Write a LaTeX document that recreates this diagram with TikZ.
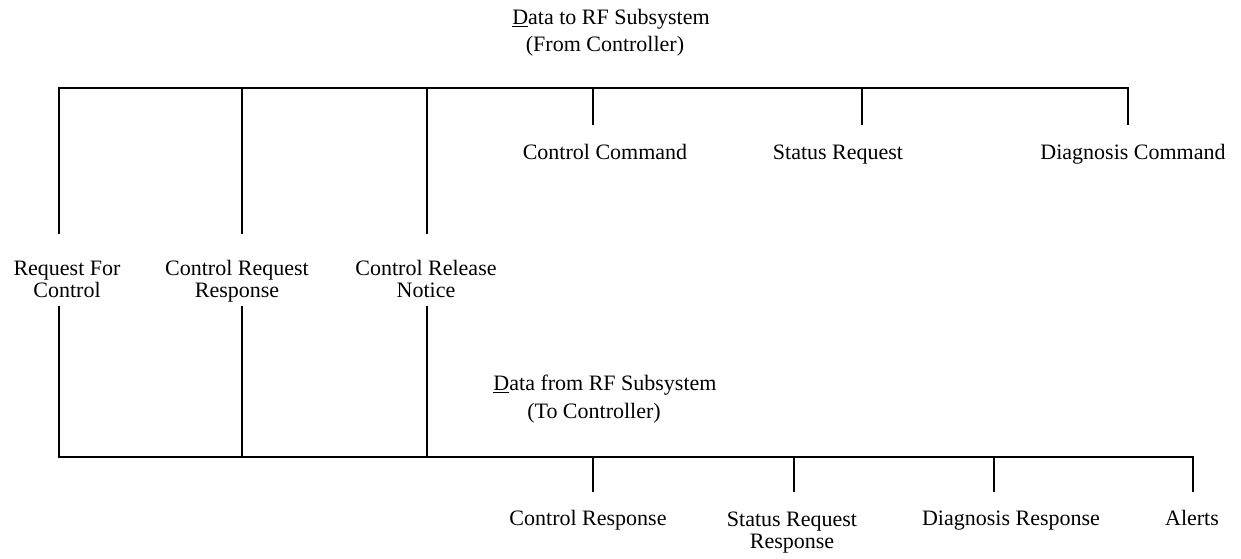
\documentclass[tikz,border=0pt]{standalone}
\usepackage{fontspec}
\setmainfont{Liberation Serif}
\begin{document}
\begin{tikzpicture}[x=1pt,y=-1pt,
  bus/.style={line width=2pt, line cap=rect},
  lbl/.style={font=\fontsize{22}{22}\selectfont, inner sep=0pt, align=center, text depth=0pt}]
\useasboundingbox (0,0) rectangle (1241,558);
% titles
\node[lbl] (ttl1) at (611,17) {\underline{D}ata to RF Subsystem};
\node[lbl] (ttl2) at (605,44) {(From Controller)};
\node[lbl] (ttl3) at (605,383) {\underline{D}ata from RF Subsystem};
\node[lbl] (ttl4) at (594,411) {(To Controller)};
% top bus
\coordinate (t1) at (59,88);
\coordinate (t2) at (242,88);
\coordinate (t3) at (427,88);
\coordinate (t4) at (593,88);
\coordinate (t5) at (862,88);
\coordinate (t6) at (1128,88);
\draw[bus] (t1) -- (t6);
\node[lbl] (cc) at (605,152) {Control Command};
\node[lbl] (sr) at (838,152) {Status Request};
\node[lbl] (dc) at (1133,152) {Diagnosis Command};
\coordinate (s4) at (593,124);
\coordinate (s5) at (862,124);
\coordinate (s6) at (1128,124);
\draw[bus] (t4) -- (s4);
\draw[bus] (t5) -- (s5);
\draw[bus] (t6) -- (s6);
% middle labels
\node[lbl] (rfc) at (67,279) {Request For\\Control};
\node[lbl] (crr) at (237,279) {Control Request\\Response};
\node[lbl] (crn) at (426,279) {Control Release\\Notice};
\coordinate (u1) at (59,233);
\coordinate (u2) at (242,233);
\coordinate (u3) at (427,233);
\draw[bus] (t1) -- (u1);
\draw[bus] (t2) -- (u2);
\draw[bus] (t3) -- (u3);
\coordinate (d1) at (59,307);
\coordinate (d2) at (242,307);
\coordinate (d3) at (427,307);
% bottom bus
\coordinate (b1) at (59,457);
\coordinate (b2) at (242,457);
\coordinate (b3) at (427,457);
\coordinate (b4) at (593,457);
\coordinate (b5) at (794,457);
\coordinate (b6) at (994,457);
\coordinate (b7) at (1193,457);
\draw[bus] (b1) -- (b7);
\draw[bus] (d1) -- (b1);
\draw[bus] (d2) -- (b2);
\draw[bus] (d3) -- (b3);
\coordinate (e4) at (593,491);
\coordinate (e5) at (794,491);
\coordinate (e6) at (994,491);
\coordinate (e7) at (1193,491);
\draw[bus] (b4) -- (e4);
\draw[bus] (b5) -- (e5);
\draw[bus] (b6) -- (e6);
\draw[bus] (b7) -- (e7);
\node[lbl] (cr) at (588,518) {Control Response};
\node[lbl] (srr) at (792,530) {Status Request\\Response};
\node[lbl] (dr) at (1011,518) {Diagnosis Response};
\node[lbl] (al) at (1192,518) {Alerts};
\end{tikzpicture}
\end{document}
